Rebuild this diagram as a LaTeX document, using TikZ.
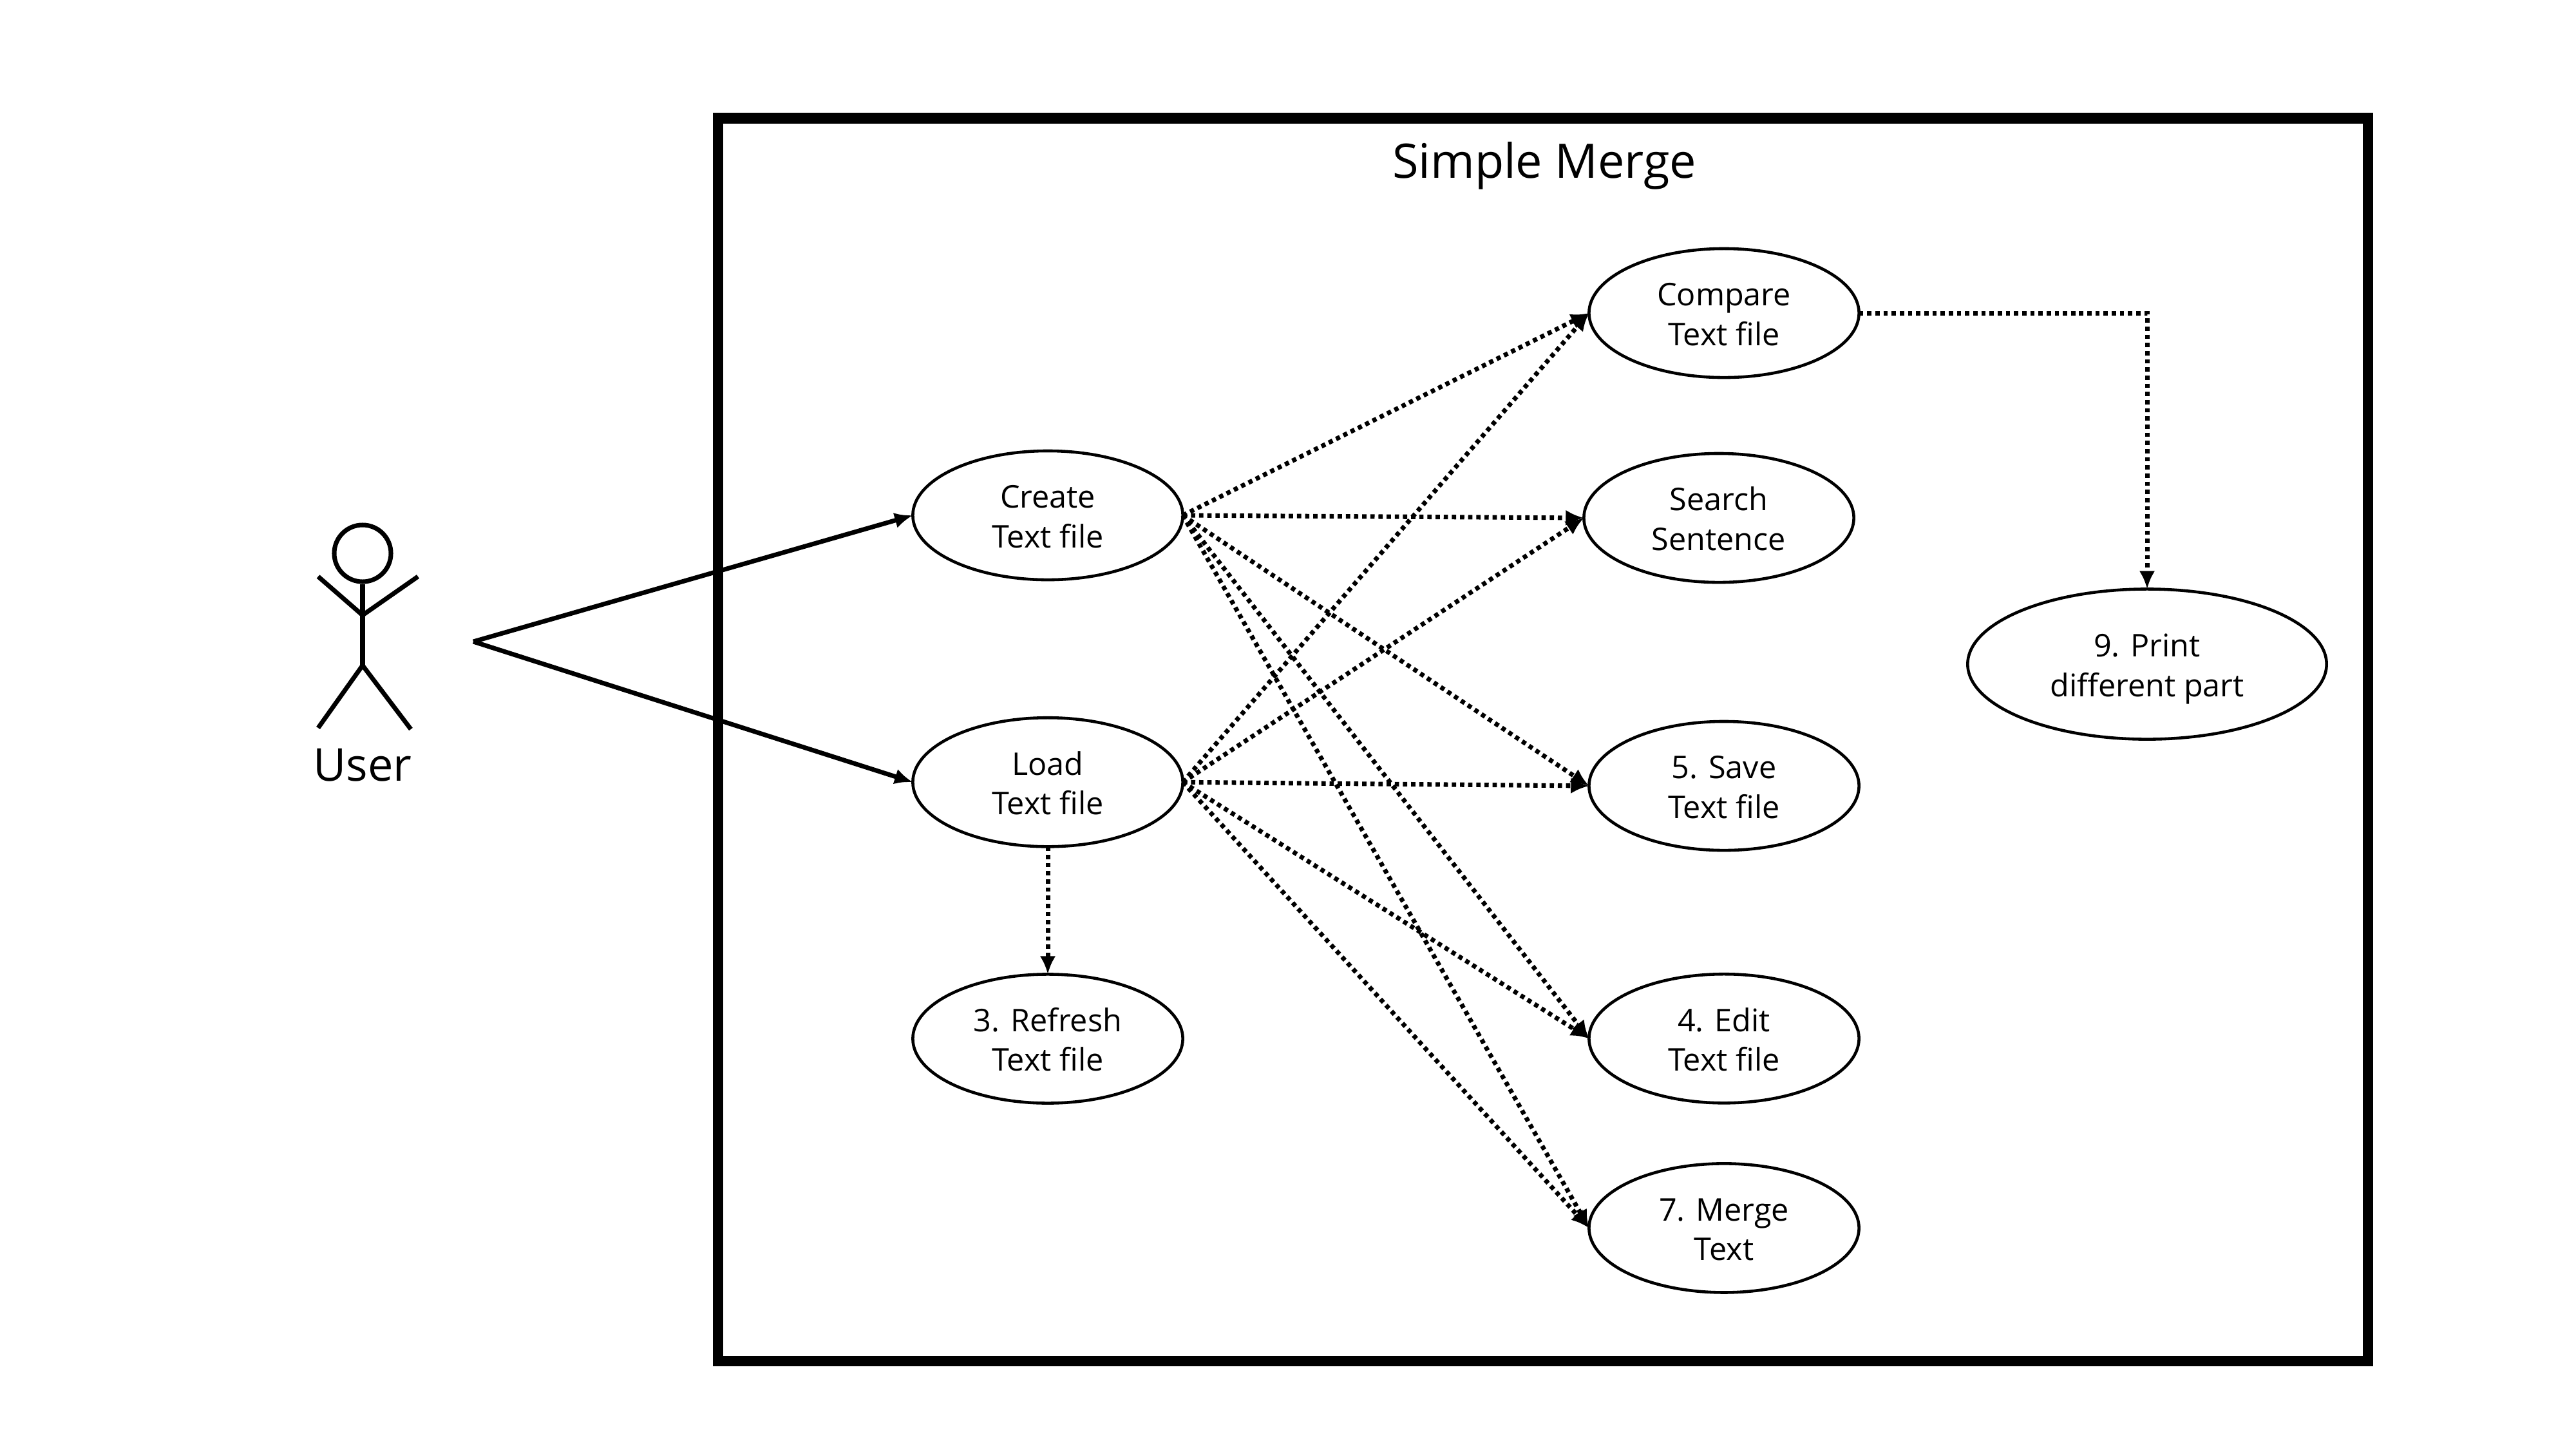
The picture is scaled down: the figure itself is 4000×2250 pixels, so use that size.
\documentclass[tikz,border=0pt]{standalone}
\usepackage{fontspec}
\setmainfont{Open Sans}
\usetikzlibrary{shapes.geometric,arrows.meta}

\begin{document}
\begin{tikzpicture}[x=0.01cm,y=-0.01cm,>={Latex[length=8pt,width=7pt]},thick,
    usecase/.style={ellipse,draw,line width=1.3pt,minimum width=4.19cm,minimum height=2.0cm,inner sep=0pt,outer sep=0pt,align=center,text height=1.2cm,text depth=0.2cm,font=\fontsize{13.8}{17.4}\selectfont},
    actor line/.style={line width=2pt},
    flow/.style={->,line width=2pt},
    dep/.style={->,line width=2pt,dash pattern=on 1.9pt off 1.7pt}]

            \useasboundingbox (0,0) rectangle (4000,2250);

            \node[draw, line width=4.6pt, minimum width=25.6cm, minimum height=19.28cm, inner sep=0pt] (frame) at (2396,1148) {};
            \node[font=\fontsize{21}{25}\selectfont] (title) at (2398,257) {Simple Merge};

            \node[usecase] (create) at (1627,800) {Create\\Text file};
            \node[usecase] (load) [below of = create, node distance=4.14cm] {Load\\Text file};
            \node[usecase] (refresh) [below of = load, node distance=3.98cm] {3. Refresh\\Text file};

            \node[usecase] (compare) at (2677,486) {Compare\\Text file};
            \node[usecase] (search) at (2669,804) {Search\\Sentence};
            \node[usecase] (save) at (2677,1220) {5. Save\\Text file};
            \node[usecase] (edit) [below of = save, node distance=3.92cm] {4. Edit\\Text file};
            \node[usecase] (merge) [below of = edit, node distance=2.94cm] {7. Merge\\Text};
            \node[usecase, minimum width=5.57cm, minimum height=2.33cm] (print) at (3334,1031) {9. Print\\different part};

            % stick figure
            \node[circle, draw, line width=2pt, minimum size=0.88cm, inner sep=0pt] (head) at (563,859) {};
            \coordinate (arms) at (563,955);
            \coordinate (hip) at (563,1033);
            \draw[actor line] (head.south) -- (hip);
            \draw[actor line] (494,895) -- (arms) -- (649,895);
            \draw[actor line] (494,1130) -- (hip) -- (638,1132);
            \node[font=\fontsize{20}{24}\selectfont] (user) at (563,1188) {User};

            \coordinate (start) at (735,996);
            \draw[flow] (start) -- (create.west);
            \draw[flow] (start) -- (load.west);

            \foreach \from in {create,load}
                \foreach \to in {compare,search,save,edit,merge}
                    \draw[dep] (\from.east) -- (\to.west);

            \draw[dep] (load.south) -- (refresh.north);
            \draw[dep] (compare.east) -| (print.north);
        \end{tikzpicture}
\end{document}
